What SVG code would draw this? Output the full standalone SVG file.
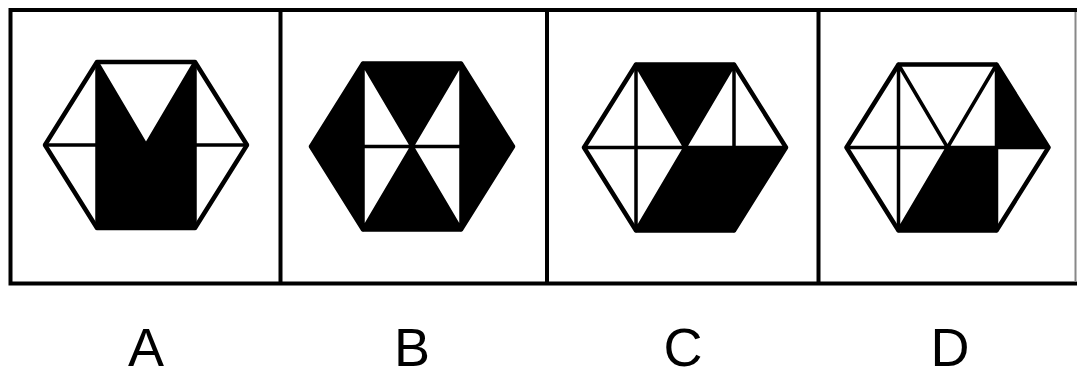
<svg xmlns="http://www.w3.org/2000/svg" width="1077" height="378" viewBox="0 0 1077 378">
<style>
.frame{fill:none;stroke:#000;stroke-width:4}
.blk{fill:#000}
.wht{fill:#fff}
.ln{fill:none;stroke:#000;stroke-width:3.5;stroke-linejoin:round;stroke-linecap:round}
.hex{fill:none;stroke:#000;stroke-width:4.5;stroke-linejoin:round}
.lbl{font-family:"Liberation Sans","Arial",sans-serif;font-size:54px;fill:#000;text-anchor:middle}
</style>
<defs>
<g id="grid">
<path class="ln" d="M-49,-83V83M49,-83V83M-101,0H101M-49,-83L49,83M49,-83L-49,83"/>
<polygon class="hex" points="-49,-83 49,-83 101,0 49,83 -49,83 -101,0"/>
</g>
</defs>
<g id="frame">
<path class="frame" d="M1077,10H10.5V283.5H1077"/>
<path class="frame" d="M280.5,10V283.5M547,10V283.5M818.5,10V283.5"/>
<line x1="1075.5" y1="12" x2="1075.5" y2="282" stroke="#888" stroke-width="2"/>
</g>
<g id="optionA" transform="translate(146,145)">
<polygon class="blk" points="-49,-83 0,0 49,-83 49,83 -49,83"/>
<use href="#grid"/>
</g>
<g id="optionB" transform="translate(412,146.5)">
<polygon class="blk" points="-49,-83 49,-83 101,0 49,83 -49,83 -101,0"/>
<polygon class="wht" points="-49,-83 0,0 -49,83"/>
<polygon class="wht" points="49,-83 0,0 49,83"/>
<use href="#grid"/>
</g>
<g id="optionC" transform="translate(685,147.5)">
<polygon class="blk" points="-49,-83 49,-83 0,0"/>
<polygon class="blk" points="0,0 101,0 49,83 -49,83"/>
<use href="#grid"/>
</g>
<g id="optionD" transform="translate(947.5,147.5)">
<polygon class="blk" points="49,-83 101,0 49,0"/>
<polygon class="blk" points="0,0 49,0 49,83 -49,83"/>
<use href="#grid"/>
</g>
<g id="labels">
<text class="lbl" x="146" y="366">A</text>
<text class="lbl" x="412" y="366">B</text>
<text class="lbl" x="683" y="366">C</text>
<text class="lbl" x="950" y="366">D</text>
</g>
</svg>
